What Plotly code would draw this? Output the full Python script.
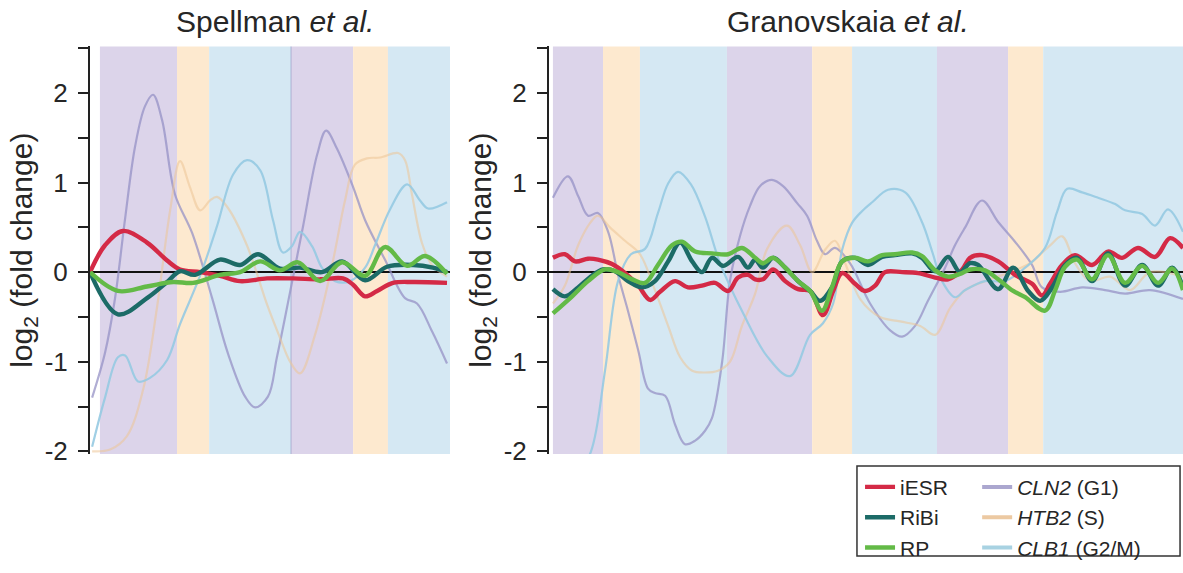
import plotly.graph_objects as go

# ---------------- Spellman et al. (time in min) ----------------
sp_phase_bounds = [3.3, 29, 39.7, 67, 87.7, 99.3, 120]
sp_phase_names = ["G1", "S", "G2/M", "G1", "S", "G2/M"]

sp_iesr_t = [0, 5, 11, 19, 25.7, 30, 36.7, 43.3, 50, 59, 67.7, 76.7, 84.3, 87.7, 91.7, 95.7, 101, 107.7, 119]
sp_iesr_v = [0, 0.3, 0.46, 0.33, 0.13, 0.03, 0, -0.04, -0.1, -0.07, -0.07, -0.08, -0.07, -0.14, -0.27, -0.21, -0.12, -0.11, -0.12]

sp_ribi_t = [0, 9.3, 19, 25.7, 30, 35, 43.3, 50, 56, 63.3, 70, 77.3, 84, 91.7, 99, 107.7, 114.3, 119]
sp_ribi_v = [0, -0.47, -0.29, -0.11, 0.01, -0.03, 0.14, 0.08, 0.2, 0.04, 0.05, 0, 0.12, -0.09, 0.06, 0.08, 0.05, 0]

sp_rp_t = [0, 9.3, 19, 27.7, 34.3, 43.3, 50, 56.7, 63.3, 69.3, 76.7, 84, 91.7, 98.3, 105.7, 111.7, 119]
sp_rp_v = [0, -0.21, -0.16, -0.11, -0.12, -0.03, 0, 0.12, 0.02, 0.11, -0.1, 0.11, -0.04, 0.28, 0.07, 0.18, -0.02]

sp_cln2_t = [0.7, 5, 8.3, 11.7, 15, 18.3, 21, 24, 28.3, 34, 40.7, 46, 51.7, 55, 59.3, 62.3, 66.7, 71, 75.7, 78.7, 82.3, 87.7, 91.7, 98.3, 105, 109, 114, 119]
sp_cln2_v = [-1.4, -0.9, -0.3, 0.6, 1.4, 1.85, 1.98, 1.7, 0.87, 0.44, -0.29, -0.91, -1.39, -1.51, -1.39, -0.95, -0.22, 0.51, 1.31, 1.58, 1.38, 0.95, 0.58, 0.14, -0.29, -0.35, -0.66, -1.02]

sp_htb2_t = [0.7, 6.7, 12.3, 17.7, 22.3, 26.7, 30, 33.3, 36.7, 40, 42.3, 45.7, 52.3, 59, 63.3, 66.7, 70, 75, 80.7, 85, 88.3, 92.3, 96.7, 102.7, 105, 107.3, 110.7, 114, 119]
sp_htb2_v = [-2.0, -1.98, -1.83, -1.31, -0.4, 0.69, 1.24, 0.95, 0.69, 0.8, 0.84, 0.73, 0.3, -0.36, -0.73, -1.0, -1.13, -0.7, 0.08, 0.8, 1.2, 1.27, 1.28, 1.33, 1.25, 0.87, 0.32, 0.08, -0.05]

sp_clb1_t = [0.7, 5, 9.3, 11.7, 16, 20, 25.7, 30, 36.7, 42.3, 47.7, 52.3, 56.7, 61, 64.3, 67.3, 70, 74, 77.3, 81.7, 86.7, 91.7, 95, 100, 105.7, 110, 112.7, 119]
sp_clb1_v = [-1.95, -1.4, -0.95, -0.93, -1.22, -1.18, -0.98, -0.58, -0.04, 0.51, 1.09, 1.25, 1.14, 0.58, 0.22, 0.29, 0.45, 0.29, 0.05, -0.1, -0.1, 0.05, 0.3, 0.7, 0.98, 0.8, 0.71, 0.78]

# ---------------- Granovskaia et al. (time in min) ----------------
gr_phase_bounds = [1.3, 18, 30.3, 59.3, 87.7, 101, 129.3, 153, 164.7, 212]
gr_phase_names = ["G1", "S", "G2/M", "G1", "S", "G2/M", "G1", "S", "G2/M"]

gr_iesr_t = [1.3, 5.3, 8.7, 13, 16.3, 21, 25.3, 29.7, 33.7, 37, 42, 46.3, 51, 55.3, 59.7, 63, 66.3, 68.7, 71.3, 74.7, 78.7, 83, 87, 91.3, 94.7, 97.7, 102, 105.3, 108.7, 112, 117.7, 123, 128.7, 133, 137.7, 140.3, 144.3, 149.7, 155.3, 161, 164.3, 167, 171, 175.3, 181, 186.3, 191, 196.3, 202, 207, 211.3]
gr_iesr_v = [0.16, 0.2, 0.12, 0.15, 0.14, 0.09, -0.01, -0.15, -0.31, -0.22, -0.1, -0.17, -0.15, -0.12, -0.21, -0.06, -0.03, -0.08, -0.08, 0.03, -0.1, -0.19, -0.21, -0.48, -0.21, -0.01, -0.13, -0.21, -0.15, 0, 0, -0.01, -0.06, -0.08, 0.03, 0.16, 0.19, 0.12, -0.03, -0.13, -0.26, -0.13, 0.08, 0.19, 0.08, 0.23, 0.16, 0.27, 0.17, 0.38, 0.27]

gr_ribi_t = [1.3, 5.3, 9.7, 14.3, 18, 22, 26.3, 31, 35.3, 39.7, 43.7, 47.7, 51, 54.3, 58, 63, 66.3, 68.7, 71.3, 74.7, 78.7, 83, 87, 90.3, 94.3, 97.7, 102, 106.3, 111, 115.3, 121, 124.3, 128.7, 133, 137, 140.3, 143, 149.7, 154.7, 159.7, 163.7, 167.7, 172, 176, 181, 186.3, 192, 197.7, 203, 207.7, 211.3]
gr_ribi_v = [-0.19, -0.27, -0.17, -0.04, 0.03, 0.01, -0.1, -0.17, -0.1, 0.12, 0.33, 0.12, 0.0, 0.16, 0.07, 0.17, 0.05, 0.14, 0.05, 0.16, 0.05, -0.1, -0.21, -0.32, -0.17, 0.12, 0.16, 0.08, 0.17, 0.19, 0.21, 0.16, 0.01, 0.17, 0.0, 0.1, 0.08, -0.19, 0.05, -0.21, -0.32, -0.17, 0.08, 0.16, -0.1, 0.21, -0.15, 0.08, -0.15, 0.05, -0.17]

gr_rp_t = [1.3, 7.7, 13, 18.7, 23, 27.7, 32, 36.3, 41, 44.3, 48.7, 54.3, 59.7, 64.3, 68.7, 71.3, 74.7, 78.7, 83, 87, 91, 94.3, 97.7, 102, 106.3, 111, 115.3, 121, 124.3, 128.7, 133, 137, 140.3, 145.3, 149.7, 154.7, 158.7, 165.3, 168.7, 172, 176, 181, 186.3, 192, 197.7, 203, 207.7, 211.3]
gr_rp_v = [-0.46, -0.27, -0.1, 0.03, 0, -0.08, -0.12, 0.08, 0.3, 0.34, 0.23, 0.21, 0.2, 0.27, 0.16, 0.1, 0.16, 0.05, -0.1, -0.21, -0.43, -0.17, 0.12, 0.16, 0.12, 0.19, 0.2, 0.22, 0.18, 0.02, -0.05, -0.02, 0.03, 0.02, -0.08, -0.21, -0.28, -0.43, -0.2, 0.06, 0.14, -0.08, 0.19, -0.12, 0.07, -0.12, 0.04, -0.2]

gr_cln2_t = [1.3, 6.3, 9.7, 13, 16.3, 19.7, 23, 26.3, 29.7, 33, 35.3, 38.7, 42, 45.3, 48.7, 52, 54.3, 57.7, 60.3, 63.7, 67, 70.3, 74.3, 78, 82.7, 86, 89.3, 92, 95.3, 100.3, 107, 113.7, 117.7, 122, 126.3, 132, 135.3, 138.7, 144.3, 149.7, 155.3, 161, 164.3, 170.3, 177.7, 185.3, 192, 200.3, 211.3]
gr_cln2_v = [0.83, 1.07, 0.85, 0.63, 0.66, 0.45, -0.03, -0.43, -0.87, -1.3, -1.35, -1.38, -1.7, -1.92, -1.88, -1.77, -1.63, -1.0, -0.1, 0.41, 0.74, 0.96, 1.03, 0.96, 0.77, 0.63, 0.35, 0.2, 0.27, 0.1, -0.35, -0.65, -0.72, -0.6, -0.32, 0.05, 0.3, 0.5, 0.8, 0.56, 0.34, 0.08, -0.17, -0.22, -0.17, -0.2, -0.24, -0.2, -0.3]

gr_htb2_t = [1.3, 5.3, 9.7, 13.7, 16.3, 20.3, 25.3, 30.3, 35.3, 39.7, 43.7, 47.7, 52, 56.3, 60.3, 64.3, 68.7, 72.7, 79.3, 83.7, 87.7, 92, 95.3, 98.7, 103.7, 110.3, 117, 123.7, 128.7, 133.7, 138.7, 145.3, 153.7, 160.3, 167, 171, 175.3, 180.3, 187, 193.7, 200.3, 211.3]
gr_htb2_v = [-0.35, -0.15, 0.3, 0.55, 0.63, 0.5, 0.35, 0.2, -0.2, -0.6, -0.95, -1.1, -1.12, -1.1, -1.0, -0.6, -0.24, 0.26, 0.52, 0.3, 0.0, 0.25, 0.35, 0.1, -0.3, -0.5, -0.55, -0.6, -0.7, -0.4, -0.2, -0.1, 0.0, 0.1, 0.3, 0.4, 0.1, -0.1, -0.05, -0.2, 0.0, -0.05]

gr_clb1_t = [1.3, 8.7, 14, 18.7, 23, 27.3, 32, 36.3, 39.7, 43, 47.3, 52, 57, 64.7, 72.7, 80.3, 87, 91.3, 94.7, 97.7, 101, 104.3, 107.7, 113, 118.7, 124.3, 127.7, 131, 135.3, 138.7, 145.3, 152, 158.7, 165.3, 169.3, 172.7, 177.7, 183, 188.7, 192, 197.7, 202, 206.3, 211.3]
gr_clb1_v = [-2.6, -2.3, -2.0, -1.09, -0.1, 0.2, 0.26, 0.66, 0.99, 1.12, 0.98, 0.62, 0.1, -0.46, -0.94, -1.16, -0.7, -0.57, -0.35, 0.25, 0.55, 0.68, 0.78, 0.92, 0.89, 0.56, 0.23, -0.1, -0.28, -0.2, -0.1, -0.1, 0.05, 0.27, 0.67, 0.93, 0.89, 0.83, 0.76, 0.69, 0.65, 0.52, 0.7, 0.45]

y_tick_vals = [-2, -1, 0, 1, 2]
y_tick_text = ["-2", "-1", "0", "1", "2"]

# ---------------- styles ----------------
FONT = "Liberation Sans, Arial, Helvetica, sans-serif"
TXT = "#262626"
phase_fill = {"G1": "#dcd4ea", "S": "#fde9cf", "G2/M": "#d5e8f3"}
thick = [("iESR", "#d42a46"), ("RiBi", "#1c6b67"), ("RP", "#63ba47")]
faint = [("<i>CLN2</i> (G1)", "rgba(150,146,198,0.75)", "#aba7cf"),
         ("<i>HTB2</i> (S)", "rgba(236,196,150,0.55)", "#ecc9a2"),
         ("<i>CLB1</i> (G2/M)", "rgba(150,202,226,0.9)", "#a8d2e2")]

panels = [
    ("x", "y", [(sp_cln2_t, sp_cln2_v), (sp_htb2_t, sp_htb2_v), (sp_clb1_t, sp_clb1_v)],
     [(sp_iesr_t, sp_iesr_v), (sp_ribi_t, sp_ribi_v), (sp_rp_t, sp_rp_v)], True),
    ("x2", "y2", [(gr_cln2_t, gr_cln2_v), (gr_htb2_t, gr_htb2_v), (gr_clb1_t, gr_clb1_v)],
     [(gr_iesr_t, gr_iesr_v), (gr_ribi_t, gr_ribi_v), (gr_rp_t, gr_rp_v)], False),
]

fig = go.Figure()
for xa, ya, faint_data, thick_data, show in panels:
    for (name, col, _), (t, v) in zip(faint, faint_data):
        fig.add_trace(go.Scatter(x=t, y=v, mode="lines", name=name, xaxis=xa, yaxis=ya,
                                 line=dict(color=col, width=2.2, shape="spline", smoothing=1),
                                 showlegend=False, hoverinfo="skip"))
    for (name, col), (t, v) in zip(thick, thick_data):
        fig.add_trace(go.Scatter(x=t, y=v, mode="lines", name=name, xaxis=xa, yaxis=ya,
                                 line=dict(color=col, width=4.4, shape="spline", smoothing=1),
                                 showlegend=show, legend="legend", hoverinfo="skip"))

# legend keys for the reference genes (drawn thicker in the key, as in the original)
for name, _, key_col in faint:
    fig.add_trace(go.Scatter(x=[None], y=[None], mode="lines", name=name, xaxis="x", yaxis="y",
                             line=dict(color=key_col, width=4), showlegend=True, legend="legend2",
                             hoverinfo="skip"))

shapes = []
for xa, bounds, names in [("x", sp_phase_bounds, sp_phase_names), ("x2", gr_phase_bounds, gr_phase_names)]:
    yref = "y domain" if xa == "x" else "y2 domain"
    for i, ph in enumerate(names):
        shapes.append(dict(type="rect", xref=xa, yref=yref, x0=bounds[i], x1=bounds[i + 1],
                           y0=0, y1=1, fillcolor=phase_fill[ph], line=dict(width=0), layer="below"))
# faint boundary line in the Spellman panel
shapes.append(dict(type="line", xref="x", yref="y domain", x0=sp_phase_bounds[3], x1=sp_phase_bounds[3],
                   y0=0, y1=1, line=dict(color="rgba(150,160,200,0.6)", width=1.2), layer="below"))
# legend frame
shapes.append(dict(type="rect", xref="paper", yref="paper", x0=0.7244, x1=0.9975, y0=0.0087, y1=0.1693,
                   line=dict(color="#333333", width=1.5), fillcolor="rgba(0,0,0,0)"))

yaxis_common = dict(range=[-2.03, 2.52], tickmode="array", tickvals=y_tick_vals, ticktext=y_tick_text,
                    showgrid=False, zeroline=True, zerolinecolor="#111111", zerolinewidth=2,
                    showline=True, linecolor="#222222", linewidth=2, ticks="outside", ticklen=10,
                    tickwidth=2, tickcolor="#222222", ticklabelstandoff=5,
                    minor=dict(dtick=0.5, tick0=0, ticks="outside", ticklen=10, tickwidth=2,
                               tickcolor="#222222", showgrid=False),
                    tickfont=dict(family=FONT, size=26, color=TXT),
                    title=dict(text="log<sub>2</sub> (fold change)", standoff=3,
                               font=dict(family=FONT, size=30, color=TXT)))
xaxis_common = dict(visible=False, showgrid=False, zeroline=False)

fig.update_layout(
    width=1183, height=573,
    margin=dict(l=0, r=0, t=0, b=0),
    paper_bgcolor="white", plot_bgcolor="white",
    font=dict(family=FONT, color=TXT),
    xaxis=dict(domain=[0.0761, 0.3804], range=[0, 120], **xaxis_common),
    xaxis2=dict(domain=[0.4641, 1.0], range=[0, 211.3], **xaxis_common),
    yaxis=dict(domain=[0.1907, 0.9173], anchor="x", **yaxis_common),
    yaxis2=dict(domain=[0.1907, 0.9173], anchor="x2", **yaxis_common),
    shapes=shapes,
    showlegend=True,
    legend=dict(x=0.727, y=0.168, xanchor="left", yanchor="top", bgcolor="rgba(0,0,0,0)",
                font=dict(family=FONT, size=21, color=TXT), tracegroupgap=0, itemwidth=30),
    legend2=dict(x=0.826, y=0.168, xanchor="left", yanchor="top", bgcolor="rgba(0,0,0,0)",
                 font=dict(family=FONT, size=21, color=TXT), tracegroupgap=0, itemwidth=30),
    annotations=[
        dict(text="Spellman <i>et al.</i>", xref="paper", yref="paper", x=0.2325, y=0.9616,
             xanchor="center", yanchor="middle", showarrow=False,
             font=dict(family=FONT, size=30, color=TXT)),
        dict(text="Granovskaia <i>et al.</i>", xref="paper", yref="paper", x=0.7168, y=0.9616,
             xanchor="center", yanchor="middle", showarrow=False,
             font=dict(family=FONT, size=30, color=TXT)),
    ],
)

fig.write_html("out.html")
